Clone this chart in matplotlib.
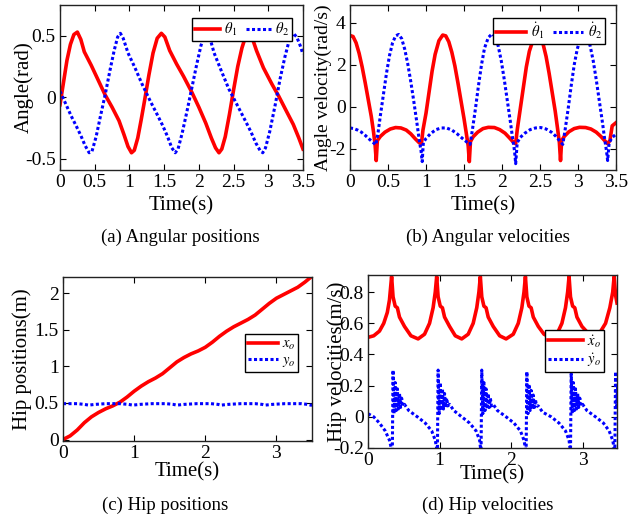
import matplotlib
matplotlib.use('Agg')
import matplotlib.pyplot as plt
from matplotlib.ticker import FormatStrFormatter

plt.rcParams['font.family'] = ['Liberation Serif', 'DejaVu Serif']
plt.rcParams['mathtext.fontset'] = 'stix'
plt.rcParams['axes.unicode_minus'] = False

# (a) angular positions
th1_t = [0.00, 0.05, 0.10, 0.15, 0.20, 0.25, 0.30, 0.35, 0.45, 0.55, 0.65, 0.75, 0.85, 0.92, 0.98,
         1.03, 1.07, 1.12, 1.17, 1.22, 1.28, 1.34, 1.40, 1.46, 1.51, 1.58, 1.68, 1.78, 1.90, 2.00,
         2.10, 2.18, 2.24, 2.29, 2.33, 2.38, 2.44, 2.50, 2.56, 2.62, 2.67, 2.72, 2.77, 2.83, 2.93,
         3.05, 3.15, 3.25, 3.36, 3.44, 3.50]
th1_v = [-0.06, 0.12, 0.30, 0.43, 0.51, 0.53, 0.47, 0.37, 0.26, 0.14, 0.02, -0.08, -0.19, -0.30, -0.40,
         -0.45, -0.43, -0.33, -0.18, -0.02, 0.18, 0.36, 0.48, 0.52, 0.49, 0.38, 0.27, 0.17, 0.04, -0.08,
         -0.21, -0.33, -0.41, -0.45, -0.42, -0.32, -0.14, 0.06, 0.25, 0.40, 0.49, 0.52, 0.48, 0.38, 0.24,
         0.11, 0.01, -0.10, -0.22, -0.33, -0.42]
th2_t = [0.00, 0.08, 0.16, 0.24, 0.30, 0.36, 0.42, 0.46, 0.52, 0.58, 0.65, 0.72, 0.78, 0.83, 0.87,
         0.91, 0.98, 1.08, 1.18, 1.30, 1.40, 1.48, 1.55, 1.61, 1.66, 1.70, 1.76, 1.83, 1.90, 1.97,
         2.03, 2.08, 2.12, 2.16, 2.22, 2.32, 2.43, 2.55, 2.66, 2.75, 2.82, 2.88, 2.92, 2.96, 3.02,
         3.10, 3.17, 3.24, 3.30, 3.36, 3.41, 3.46, 3.50]
th2_v = [0.05, -0.05, -0.15, -0.24, -0.31, -0.39, -0.45, -0.44, -0.32, -0.16, 0.02, 0.22, 0.38, 0.49, 0.52,
         0.48, 0.36, 0.24, 0.11, -0.03, -0.14, -0.23, -0.32, -0.41, -0.45, -0.42, -0.29, -0.11, 0.08, 0.27,
         0.42, 0.51, 0.53, 0.48, 0.36, 0.22, 0.07, -0.06, -0.18, -0.28, -0.37, -0.43, -0.45, -0.41, -0.28,
         -0.06, 0.15, 0.33, 0.46, 0.52, 0.49, 0.42, 0.35]

# (b) angular velocities
dth1_t = [0.00, 0.04, 0.08, 0.12, 0.16, 0.20, 0.24, 0.28, 0.31, 0.33, 0.345, 0.36, 0.40, 0.46, 0.53,
          0.60, 0.67, 0.74, 0.80, 0.86, 0.91, 0.94, 0.96, 1.00, 1.04, 1.08, 1.12, 1.17, 1.22, 1.26,
          1.30, 1.34, 1.38, 1.42, 1.46, 1.50, 1.53, 1.555, 1.57, 1.585, 1.62, 1.68, 1.75, 1.82, 1.90,
          1.97, 2.04, 2.10, 2.15, 2.18, 2.20, 2.24, 2.28, 2.32, 2.36, 2.41, 2.46, 2.50, 2.54, 2.58,
          2.62, 2.66, 2.70, 2.73, 2.755, 2.77, 2.785, 2.82, 2.88, 2.95, 3.02, 3.10, 3.17, 3.24, 3.30,
          3.35, 3.39, 3.42, 3.45, 3.50]
dth1_v = [3.40, 3.35, 3.05, 2.55, 1.90, 1.15, 0.35, -0.45, -1.20, -1.80, -2.55, -1.60, -1.40, -1.20, -1.05,
          -0.98, -1.00, -1.10, -1.28, -1.52, -1.70, -1.75, -1.10, -0.30, 0.70, 1.70, 2.50, 3.15, 3.42, 3.38,
          3.10, 2.60, 1.95, 1.15, 0.30, -0.55, -1.25, -1.85, -2.60, -1.65, -1.42, -1.20, -1.03, -0.97, -0.98,
          -1.08, -1.25, -1.48, -1.68, -1.75, -1.10, -0.10, 0.90, 1.90, 2.65, 3.20, 3.40, 3.32, 3.00, 2.40,
          1.60, 0.70, -0.20, -1.00, -1.70, -2.55, -1.60, -1.40, -1.18, -1.03, -0.97, -0.98, -1.05, -1.20, -1.40,
          -1.60, -1.75, -1.60, -0.90, -0.75]
dth2_t = [0.00, 0.05, 0.10, 0.15, 0.20, 0.25, 0.30, 0.34, 0.37, 0.40, 0.44, 0.48, 0.52, 0.56, 0.60,
          0.64, 0.68, 0.72, 0.76, 0.80, 0.84, 0.88, 0.91, 0.935, 0.95, 0.965, 1.00, 1.06, 1.13, 1.20,
          1.27, 1.34, 1.41, 1.48, 1.54, 1.58, 1.61, 1.65, 1.69, 1.73, 1.77, 1.82, 1.87, 1.91, 1.95,
          1.99, 2.03, 2.07, 2.11, 2.14, 2.165, 2.18, 2.20, 2.24, 2.30, 2.37, 2.44, 2.51, 2.58, 2.65,
          2.71, 2.76, 2.80, 2.83, 2.87, 2.91, 2.95, 2.99, 3.03, 3.08, 3.12, 3.16, 3.20, 3.24, 3.28,
          3.32, 3.35, 3.375, 3.39, 3.41, 3.45, 3.50]
dth2_v = [-1.00, -1.03, -1.10, -1.20, -1.35, -1.52, -1.68, -1.80, -1.20, -0.40, 0.60, 1.60, 2.45, 3.05, 3.38,
          3.45, 3.25, 2.75, 2.05, 1.20, 0.25, -0.75, -1.55, -2.10, -2.60, -1.70, -1.50, -1.27, -1.08, -1.00,
          -1.00, -1.10, -1.28, -1.50, -1.68, -1.78, -1.10, -0.10, 1.00, 2.00, 2.80, 3.30, 3.48, 3.35, 2.90,
          2.20, 1.30, 0.30, -0.70, -1.50, -2.10, -2.70, -1.70, -1.45, -1.25, -1.08, -1.00, -0.98, -1.05, -1.20,
          -1.40, -1.62, -1.78, -1.10, -0.10, 1.00, 2.00, 2.75, 3.25, 3.45, 3.35, 2.90, 2.20, 1.30, 0.30,
          -0.70, -1.50, -2.10, -2.55, -1.70, -1.45, -1.30]

# (c) hip positions
xo_t = [0.00, 0.10, 0.20, 0.30, 0.40, 0.50, 0.60, 0.70, 0.80, 0.90, 1.00, 1.10, 1.20, 1.30, 1.40,
        1.50, 1.60, 1.70, 1.80, 1.90, 2.00, 2.10, 2.20, 2.30, 2.40, 2.50, 2.60, 2.70, 2.80, 2.90,
        3.00, 3.10, 3.20, 3.30, 3.40, 3.50]
xo_v = [0.00, 0.05, 0.13, 0.23, 0.31, 0.37, 0.42, 0.46, 0.51, 0.58, 0.66, 0.73, 0.79, 0.84, 0.90,
        0.98, 1.06, 1.12, 1.17, 1.21, 1.26, 1.33, 1.41, 1.48, 1.54, 1.59, 1.64, 1.70, 1.78, 1.86,
        1.93, 1.98, 2.03, 2.08, 2.15, 2.23]
yo_t = [0.00, 0.20, 0.30, 0.36, 0.45, 0.60, 0.80, 0.92, 0.98, 1.08, 1.25, 1.45, 1.55, 1.60, 1.70,
        1.88, 2.08, 2.18, 2.22, 2.32, 2.50, 2.70, 2.80, 2.84, 2.94, 3.12, 3.35, 3.44, 3.48, 3.50]
yo_v = [0.49, 0.49, 0.48, 0.47, 0.48, 0.49, 0.49, 0.48, 0.47, 0.48, 0.49, 0.49, 0.48, 0.47, 0.48,
        0.49, 0.49, 0.48, 0.47, 0.48, 0.49, 0.49, 0.48, 0.47, 0.48, 0.49, 0.49, 0.48, 0.47, 0.47]

# (d) hip velocities
dxo_t = [0.00, 0.08, 0.16, 0.22, 0.27, 0.30, 0.33, 0.35, 0.38, 0.41, 0.44, 0.51, 0.60, 0.70, 0.79,
         0.86, 0.91, 0.94, 0.96, 0.98, 1.01, 1.04, 1.07, 1.14, 1.22, 1.31, 1.40, 1.47, 1.52, 1.55,
         1.57, 1.59, 1.62, 1.65, 1.68, 1.75, 1.84, 1.93, 2.03, 2.10, 2.15, 2.18, 2.20, 2.22, 2.25,
         2.28, 2.31, 2.38, 2.46, 2.55, 2.64, 2.71, 2.76, 2.79, 2.81, 2.83, 2.86, 2.89, 2.92, 2.99,
         3.07, 3.14, 3.24, 3.32, 3.38, 3.42, 3.44, 3.46, 3.48]
dxo_v = [0.51, 0.52, 0.55, 0.60, 0.67, 0.75, 0.90, 0.77, 0.71, 0.70, 0.64, 0.58, 0.52, 0.50, 0.53,
         0.60, 0.70, 0.80, 0.90, 0.77, 0.71, 0.70, 0.64, 0.58, 0.52, 0.50, 0.53, 0.60, 0.70, 0.80,
         0.90, 0.77, 0.71, 0.70, 0.64, 0.58, 0.52, 0.50, 0.53, 0.60, 0.70, 0.80, 0.90, 0.77, 0.71,
         0.70, 0.64, 0.58, 0.53, 0.51, 0.53, 0.60, 0.70, 0.80, 0.90, 0.77, 0.71, 0.70, 0.64, 0.58,
         0.54, 0.52, 0.54, 0.60, 0.70, 0.80, 0.90, 0.78, 0.73]
dyo_t = [0.00, 0.08, 0.16, 0.24, 0.30, 0.34,
         0.35, 0.365, 0.38, 0.395, 0.41, 0.425, 0.44, 0.455, 0.47, 0.485, 0.51, 0.57, 0.69, 0.80, 0.89, 0.94, 0.97,
         0.98, 0.995, 1.01, 1.025, 1.04, 1.055, 1.07, 1.085, 1.10, 1.115, 1.14, 1.20, 1.31, 1.42, 1.51, 1.56, 1.58,
         1.59, 1.605, 1.62, 1.635, 1.65, 1.665, 1.68, 1.695, 1.71, 1.725, 1.75, 1.81, 1.93, 2.04, 2.13, 2.18, 2.21,
         2.22, 2.235, 2.25, 2.265, 2.28, 2.295, 2.31, 2.325, 2.34, 2.355, 2.38, 2.44, 2.56, 2.67, 2.76, 2.81, 2.83,
         2.84, 2.855, 2.87, 2.885, 2.90, 2.915, 2.93, 2.945, 2.96, 2.975, 3.00, 3.06, 3.18, 3.29, 3.37, 3.42, 3.45,
         3.46, 3.475, 3.49, 3.50]
dyo_v = [0.02, 0.00, -0.04, -0.09, -0.15, -0.23,
         0.30, 0.02, 0.22, 0.04, 0.18, 0.05, 0.15, 0.06, 0.12, 0.07, 0.08, 0.04, 0.00, -0.04, -0.09, -0.15, -0.23,
         0.30, 0.02, 0.22, 0.04, 0.18, 0.05, 0.15, 0.06, 0.12, 0.07, 0.08, 0.04, 0.00, -0.04, -0.09, -0.15, -0.23,
         0.30, 0.02, 0.22, 0.04, 0.18, 0.05, 0.15, 0.06, 0.12, 0.07, 0.08, 0.04, 0.00, -0.04, -0.09, -0.15, -0.23,
         0.29, 0.02, 0.21, 0.04, 0.17, 0.05, 0.14, 0.06, 0.11, 0.07, 0.07, 0.03, 0.00, -0.04, -0.09, -0.15, -0.23,
         0.29, 0.02, 0.22, 0.04, 0.18, 0.05, 0.15, 0.06, 0.12, 0.07, 0.08, 0.04, 0.00, -0.04, -0.09, -0.15, -0.23,
         0.29, 0.05, 0.20, 0.10]

RED = '#ff0000'
BLUE = '#0000ff'
W, H = 630, 525


def make_ax(fig, left, top, right, bottom):
    # pixel box -> figure fraction
    ax = fig.add_axes([left / W, 1 - bottom / H, (right - left) / W, (bottom - top) / H])
    ax.tick_params(direction='in', top=True, right=True, length=4, width=0.8, labelsize=14, pad=3)
    for s in ax.spines.values():
        s.set_linewidth(1.0)
        s.set_color('#222222')
    return ax


def style_legend(ax, **kw):
    leg = ax.legend(fancybox=False, edgecolor='black', framealpha=1, fontsize=10.5,
                    borderpad=0.2, labelspacing=0.15, handletextpad=0.3, **kw)
    leg.get_frame().set_linewidth(1.0)
    return leg


fig = plt.figure(figsize=(6.3, 5.25), dpi=100)

# (a)
ax = make_ax(fig, 60, 5, 303, 170)
ax.plot(th1_t, th1_v, color=RED, lw=2.6, label=r'$\theta_1$')
ax.plot(th2_t, th2_v, color=BLUE, lw=2.2, ls=(0, (1, 0.8)), label=r'$\theta_2$')
ax.set_xlim(0, 3.5)
ax.set_ylim(-0.59, 0.75)
ax.set_xticks([0, 0.5, 1, 1.5, 2, 2.5, 3, 3.5])
ax.set_yticks([-0.5, 0, 0.5])
ax.xaxis.set_major_formatter(FormatStrFormatter('%g'))
ax.yaxis.set_major_formatter(FormatStrFormatter('%g'))
ax.set_xlabel('Time(s)', fontsize=15, labelpad=4)
ax.set_ylabel('Angle(rad)', fontsize=15, labelpad=-6)
style_legend(ax, loc='upper right', ncol=2, handlelength=1.7, columnspacing=0.6,
             bbox_to_anchor=(0.985, 0.965))

# (b)
ax = make_ax(fig, 350, 5, 616, 170)
ax.plot(dth1_t, dth1_v, color=RED, lw=2.6, label=r'$\dot{\theta}_1$')
ax.plot(dth2_t, dth2_v, color=BLUE, lw=2.2, ls=(0, (1, 0.8)), label=r'$\dot{\theta}_2$')
ax.set_xlim(0, 3.5)
ax.set_ylim(-3, 4.85)
ax.set_xticks([0, 0.5, 1, 1.5, 2, 2.5, 3, 3.5])
ax.set_yticks([-2, 0, 2, 4])
ax.xaxis.set_major_formatter(FormatStrFormatter('%g'))
ax.set_xlabel('Time(s)', fontsize=15, labelpad=4)
ax.set_ylabel('Angle velocity(rad/s)', fontsize=14, labelpad=-2)
style_legend(ax, loc='upper right', ncol=2, handlelength=2.1, columnspacing=0.6,
             bbox_to_anchor=(0.985, 0.965))

# (c)
ax = make_ax(fig, 63, 277, 312, 441)
ax.plot(xo_t, xo_v, color=RED, lw=2.6, label=r'$x_o$')
ax.plot(yo_t, yo_v, color=BLUE, lw=2.2, ls=(0, (1, 0.8)), label=r'$y_o$')
ax.set_xlim(0, 3.5)
ax.set_ylim(-0.02, 2.22)
ax.set_xticks([0, 1, 2, 3])
ax.set_yticks([0, 0.5, 1, 1.5, 2])
ax.yaxis.set_major_formatter(FormatStrFormatter('%g'))
ax.set_xlabel('Time(s)', fontsize=15, labelpad=0)
ax.set_ylabel('Hip positions(m)', fontsize=15, labelpad=2)
style_legend(ax, loc='center right', handlelength=2.0, bbox_to_anchor=(0.975, 0.535))

# (d)
ax = make_ax(fig, 368, 275, 617, 448)
ax.plot(dxo_t, dxo_v, color=RED, lw=2.6, label=r'$\dot{x}_o$')
ax.plot(dyo_t, dyo_v, color=BLUE, lw=2.2, ls=(0, (1, 0.8)), label=r'$\dot{y}_o$')
ax.set_xlim(0, 3.48)
ax.set_ylim(-0.2, 0.91)
ax.set_xticks([0, 1, 2, 3])
ax.set_yticks([-0.2, 0, 0.2, 0.4, 0.6, 0.8])
ax.yaxis.set_major_formatter(FormatStrFormatter('%g'))
ax.set_xlabel('Time(s)', fontsize=15, labelpad=-3)
ax.set_ylabel('Hip velocities(m/s)', fontsize=15, labelpad=-10)
style_legend(ax, loc='center right', handlelength=2.4, bbox_to_anchor=(0.978, 0.56))

# captions
fig.text(180 / W, 1 - 237 / H, '(a) Angular positions', ha='center', va='center', fontsize=13.5)
fig.text(488 / W, 1 - 237 / H, '(b) Angular velocities', ha='center', va='center', fontsize=13.5)
fig.text(165 / W, 1 - 505 / H, '(c) Hip positions', ha='center', va='center', fontsize=13.5)
fig.text(488 / W, 1 - 505 / H, '(d) Hip velocities', ha='center', va='center', fontsize=13.5)

fig.savefig('out.png', dpi=100)
